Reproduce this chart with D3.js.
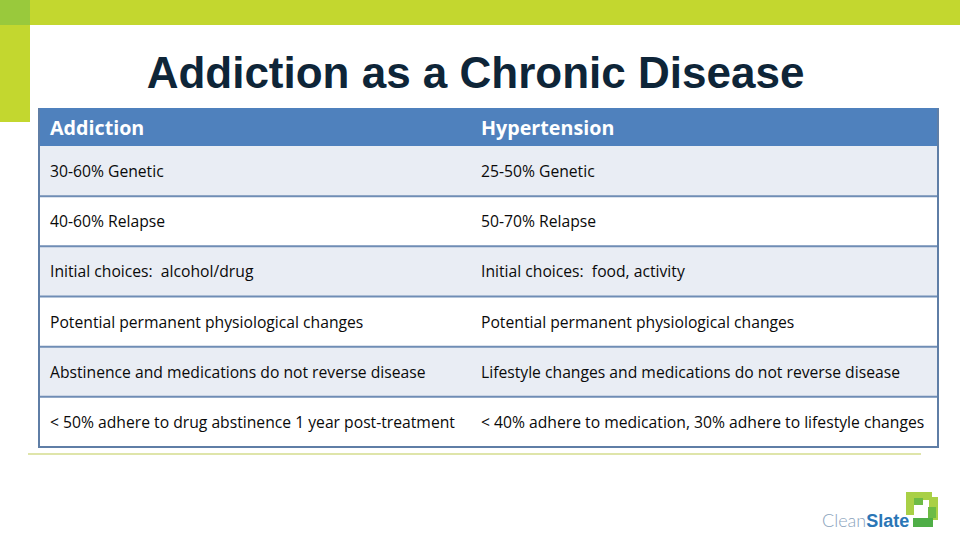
<!DOCTYPE html>
<html><head><meta charset="utf-8">
<script src="https://cdn.jsdelivr.net/npm/d3@7"></script>
<style>html,body{margin:0;padding:0;background:#fff;}svg{display:block;} text.cell{white-space:pre;}</style>
</head><body>
<script>
const title = "Addiction as a Chronic Disease";
const columns = ["Addiction", "Hypertension"];
const addictionFacts = [
  "30-60% Genetic",
  "40-60% Relapse",
  "Initial choices:  alcohol/drug",
  "Potential permanent physiological changes",
  "Abstinence and medications do not reverse disease",
  "< 50% adhere to drug abstinence 1 year post-treatment"
];
const hypertensionFacts = [
  "25-50% Genetic",
  "50-70% Relapse",
  "Initial choices:  food, activity",
  "Potential permanent physiological changes",
  "Lifestyle changes and medications do not reverse disease",
  "< 40% adhere to medication, 30% adhere to lifestyle changes"
];
const logoParts = ["Clean", "Slate"];

const W = 960, H = 540;
const svg = d3.select("body").append("svg").attr("width", W).attr("height", H);

// decorative green bars
svg.append("rect").attr("x", 0).attr("y", 0).attr("width", W).attr("height", 25).attr("fill", "#c3d72f");
svg.append("rect").attr("x", 0).attr("y", 0).attr("width", 30).attr("height", 122).attr("fill", "#c3d72f");
svg.append("rect").attr("x", 0).attr("y", 0).attr("width", 30).attr("height", 25).attr("fill", "#99c93c");

// title
svg.append("text").attr("x", 475.5).attr("y", 88).attr("text-anchor", "middle")
  .attr("font-family", "Liberation Sans, Arial, sans-serif").attr("font-weight", "bold")
  .attr("font-size", 44).attr("fill", "#0e2538").text(title);

// table
const tableLeft = 39, tableRight = 938, colSplit = 470;
const headerTop = 108, bodyTop = 146, bodyBottom = 447;
const x = d3.scaleOrdinal().domain(columns).range([tableLeft, colSplit]);
const rowIdx = d3.range(addictionFacts.length);
const y = d3.scaleBand().domain(rowIdx).range([bodyTop, bodyBottom]);

svg.append("rect").attr("x", tableLeft).attr("y", headerTop)
  .attr("width", tableRight - tableLeft).attr("height", bodyTop - headerTop).attr("fill", "#4f81bd");

svg.selectAll("rect.row").data(rowIdx).join("rect").attr("class", "row")
  .attr("x", tableLeft).attr("y", d => y(d))
  .attr("width", tableRight - tableLeft).attr("height", y.bandwidth())
  .attr("fill", d => d % 2 === 0 ? "#e9edf4" : "#ffffff");

// row separators
svg.selectAll("line.sep").data(rowIdx.slice(1)).join("line").attr("class", "sep")
  .attr("x1", tableLeft).attr("x2", tableRight)
  .attr("y1", d => y(d)).attr("y2", d => y(d))
  .attr("stroke", "#6f8db5").attr("stroke-width", 2);

// outer border (sides and bottom)
svg.append("path")
  .attr("d", `M${tableLeft},${headerTop} V${bodyBottom} H${tableRight} V${headerTop}`)
  .attr("fill", "none").attr("stroke", "#5f7ea6").attr("stroke-width", 2);

const font = "'Open Sans', Lato, sans-serif";
svg.selectAll("text.head").data(columns).join("text").attr("class", "head")
  .attr("x", d => x(d) + 11).attr("y", (headerTop + bodyTop) / 2)
  .attr("dominant-baseline", "central")
  .attr("font-family", font).attr("font-weight", "bold").attr("font-size", 19.7)
  .attr("fill", "#ffffff").text(d => d);

const cells = [];
rowIdx.forEach(i => {
  cells.push({col: columns[0], row: i, text: addictionFacts[i]});
  cells.push({col: columns[1], row: i, text: hypertensionFacts[i]});
});
svg.selectAll("text.cell").data(cells).join("text").attr("class", "cell")
  .attr("x", d => x(d.col) + 11).attr("y", d => y(d.row) + y.bandwidth() / 2)
  .attr("dominant-baseline", "central")
  .attr("font-family", font).attr("font-size", 15.7).attr("fill", "#0a0a0a")
  .text(d => d.text);

// bottom rule
svg.append("line").attr("x1", 28).attr("x2", 921).attr("y1", 454).attr("y2", 454)
  .attr("stroke", "#d5dc8e").attr("stroke-width", 1.5);

// logo
const logo = svg.append("g");
logo.append("path").attr("d", "M906,492 H932 V500 H914 V515 H906 Z").attr("fill", "#a9d046");
logo.append("rect").attr("x", 929).attr("y", 497).attr("width", 9).attr("height", 23).attr("fill", "#a9d046");
logo.append("rect").attr("x", 913).attr("y", 518).attr("width", 20).attr("height", 9).attr("fill", "#4fae47");
logo.append("rect").attr("x", 914).attr("y", 498).attr("width", 9).attr("height", 7).attr("fill", "#6dbb45");
logo.append("rect").attr("x", 928).attr("y", 507).attr("width", 8).attr("height", 11).attr("fill", "#6dbb45");
const lt = logo.append("text").attr("x", 822).attr("y", 527).attr("font-size", 18);
lt.append("tspan").attr("fill", "#8aa3bc").attr("font-family", "Lato, sans-serif").attr("font-weight", "300").text(logoParts[0]);
lt.append("tspan").attr("fill", "#2a76b6").attr("font-family", "Liberation Sans, Arial, sans-serif").attr("font-weight", "bold").text(logoParts[1]);
</script>
</body></html>
